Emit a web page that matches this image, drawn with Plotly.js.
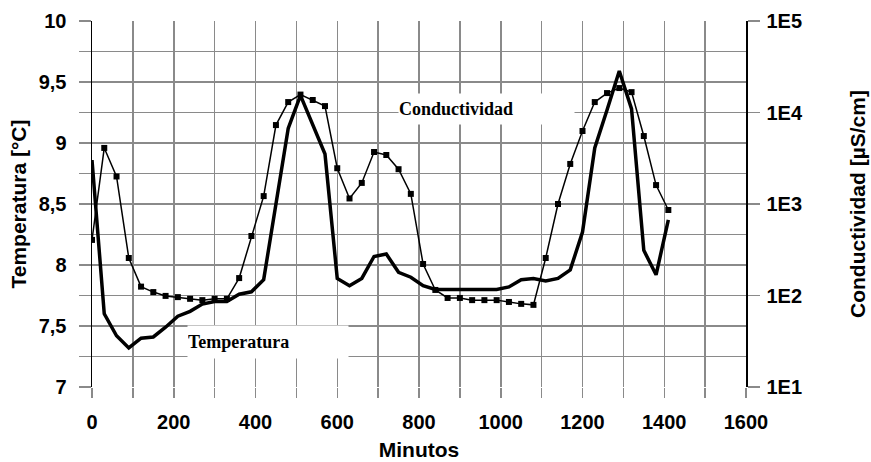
<!DOCTYPE html>
<html>
<head>
<meta charset="utf-8">
<script src="https://cdn.plot.ly/plotly-3.0.1.min.js"></script>
<style>html,body{margin:0;padding:0;background:#fff;}#chart{width:871px;height:462px;}</style>
</head>
<body>
<div id="chart"></div>
<script>
// Time in minutes
const minutos = [0,30,60,90,120,150,180,210,240,270,300,330,360,390,420,450,480,510,540,570,600,630,660,690,720,750,780,810,840,870,900,930,960,990,1020,1050,1080,1110,1140,1170,1200,1230,1260,1290,1320,1350,1380,1410];
// Temperatura [°C] (left axis)
const temperatura = [8.86,7.60,7.42,7.32,7.40,7.41,7.49,7.58,7.62,7.68,7.70,7.70,7.76,7.78,7.88,8.50,9.12,9.39,9.15,8.91,7.89,7.83,7.89,8.07,8.09,7.94,7.90,7.83,7.80,7.80,7.80,7.80,7.80,7.80,7.82,7.88,7.89,7.87,7.89,7.96,8.27,8.96,9.27,9.59,9.28,8.12,7.92,8.37];
// Conductividad [µS/cm] (right axis, log)
const conductividad = [405,4100,2000,257,125,109,99,96,92,89,92,92,155,447,1220,7290,13000,15700,13700,11750,2460,1150,1700,3700,3430,2400,1290,221,115,94,94,89,89,89,85,81,79,257,1000,2740,6280,13000,16300,18500,16700,5530,1610,860];

const tempTicks = [7,7.25,7.5,7.75,8,8.25,8.5,8.75,9,9.25,9.5,9.75,10];
const tempLabels = ["7","","7,5","","8","","8,5","","9","","9,5","","10"];
const xTicks = [0,100,200,300,400,500,600,700,800,900,1000,1100,1200,1300,1400,1500,1600];
const xLabels = ["0","","200","","400","","600","","800","","1000","","1200","","1400","","1600"];
const condTicks = [10,100,1000,10000,100000];
const condLabels = ["1E1","1E2","1E3","1E4","1E5"];

const fam = "Liberation Sans, Arial, sans-serif";
const tickF = {family:fam, size:20, weight:"bold", color:"#000"};
const titleF = {family:fam, size:21, weight:"bold", color:"#000"};
const serifF = {family:"Liberation Serif, Times New Roman, serif", size:18, weight:"bold", color:"#000"};
const grid = "#8a8a8a";

const traces = [
  {x:minutos, y:temperatura, type:"scatter", mode:"lines", name:"Temperatura",
   line:{color:"#000", width:3.5}, yaxis:"y"},
  {x:minutos, y:conductividad, type:"scatter", mode:"lines+markers", name:"Conductividad",
   line:{color:"#000", width:1.5}, marker:{symbol:"square", size:6, color:"#000"}, yaxis:"y2"}
];

const layout = {
  width:871, height:462,
  margin:{l:92, r:125, t:21, b:75},
  paper_bgcolor:"#fff", plot_bgcolor:"#fff",
  showlegend:false,
  font:{family:fam, color:"#000"},
  xaxis:{range:[0,1600], tickvals:xTicks, ticktext:xLabels, showgrid:true, gridcolor:grid, gridwidth:1.5,
         zeroline:false, showline:false, ticks:"outside", ticklen:10, tickcolor:grid, tickwidth:1.5,
         ticklabelstandoff:7, tickfont:tickF,
         title:{text:"Minutos", font:titleF, standoff:10}},
  yaxis:{range:[7,10], tickvals:tempTicks, ticktext:tempLabels, showgrid:true, gridcolor:grid, gridwidth:1.5,
         zeroline:false, showline:true, linecolor:"#000", linewidth:1.5, ticks:"outside", ticklen:12, tickcolor:grid, tickwidth:1.5,
         ticklabelstandoff:8, tickfont:tickF,
         title:{text:"Temperatura [°C]", font:titleF, standoff:6}},
  yaxis2:{type:"log", range:[1,5], overlaying:"y", side:"right", tickvals:condTicks, ticktext:condLabels,
          showgrid:false, zeroline:false, showline:true, linecolor:"#000", linewidth:1.5,
          ticks:"outside", ticklen:12, tickcolor:grid, tickwidth:1.5, ticklabelstandoff:3,
          tickfont:tickF,
          title:{text:"Conductividad [µS/cm]", font:titleF, standoff:48}},
  annotations:[
    {text:"Conductividad", xref:"paper", yref:"paper", x:0.468, y:0.803, xanchor:"left", yanchor:"top",
     width:175, height:30, align:"left", bgcolor:"#fff", showarrow:false, borderpad:0, font:serifF},
    {text:"Temperatura", xref:"paper", yref:"paper", x:0.145, y:0.169, xanchor:"left", yanchor:"top",
     width:160, height:32, align:"left", bgcolor:"#fff", showarrow:false, borderpad:0, font:serifF}
  ]
};

Plotly.newPlot("chart", traces, layout, {staticPlot:true, displayModeBar:false});
</script>
</body>
</html>
